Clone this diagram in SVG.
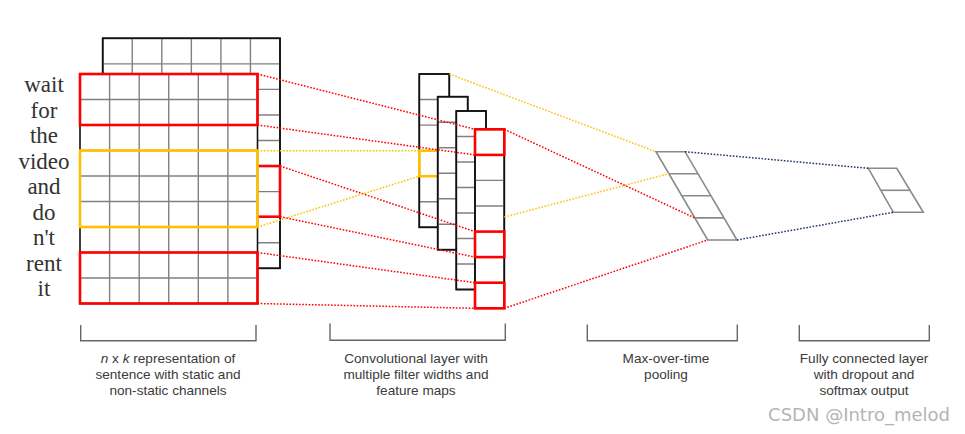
<svg xmlns="http://www.w3.org/2000/svg" width="965" height="434" viewBox="0 0 965 434">
<style>
.bg{fill:#fff}
.frame{fill:#fff;stroke:#111;stroke-width:1.6}
.grid{stroke:#808080;stroke-width:1.4;fill:none}
.red{fill:none;stroke:#ff0000;stroke-width:2.6}
.yel{fill:none;stroke:#ffc000;stroke-width:2.6}
.gray{fill:none;stroke:#8a8a8a;stroke-width:1.6}
.dr{stroke:#ff0000;stroke-width:1.5;stroke-dasharray:1.6 1.6;fill:none}
.dy{stroke:#ffc000;stroke-width:1.5;stroke-dasharray:1.6 1.6;fill:none}
.db{stroke:#1f3864;stroke-width:1.5;stroke-dasharray:1.6 1.6;fill:none}
.word{font-family:"Liberation Serif",serif;font-size:23px;fill:#333;text-anchor:middle}
.lbl{font-family:"Liberation Sans",Arial,sans-serif;font-size:13.6px;fill:#3a3a3a;text-anchor:middle}
.brk{fill:none;stroke:#666;stroke-width:1.4}
</style>
<rect class="bg" width="965" height="434"/>

<g id="matrix-back">
<rect class="frame" x="102.7" y="38.3" width="177.3" height="230"/>
<path class="grid" d="M132.25 38.3V268.3M161.8 38.3V268.3M191.35 38.3V268.3M220.9 38.3V268.3M250.45 38.3V268.3M102.7 63.85H280M102.7 89.4H280M102.7 114.95H280M102.7 140.5H280M102.7 166.05H280M102.7 191.6H280M102.7 217.15H280M102.7 242.7H280"/>
<rect class="frame" x="102.7" y="38.3" width="177.3" height="230" fill="none" style="fill:none"/>
<rect class="red" x="102.7" y="166.05" width="177.3" height="50.65"/>
</g>

<g id="matrix-front">
<rect class="frame" x="80" y="74" width="177.5" height="229.5"/>
<path class="grid" d="M109.6 74V303.5M139.2 74V303.5M168.75 74V303.5M198.3 74V303.5M227.9 74V303.5M80 99.5H257.5M80 125H257.5M80 150.5H257.5M80 176H257.5M80 201.5H257.5M80 227H257.5M80 252.5H257.5M80 278H257.5"/>
<rect class="red" x="80" y="74" width="177.5" height="51"/>
<rect class="yel" x="80" y="150.5" width="177.5" height="76.5"/>
<rect class="red" x="80" y="252.5" width="177.5" height="51"/>
</g>

<g id="words">
<text class="word" x="44" y="92">wait</text>
<text class="word" x="44" y="117.5">for</text>
<text class="word" x="44" y="143">the</text>
<text class="word" x="44" y="168.5">video</text>
<text class="word" x="44" y="194">and</text>
<text class="word" x="44" y="219.5">do</text>
<text class="word" x="44" y="245">n't</text>
<text class="word" x="44" y="270.5">rent</text>
<text class="word" x="44" y="296">it</text>
</g>

<g id="map1">
<rect class="frame" x="419.3" y="74" width="30" height="153.3"/>
<path class="grid" d="M419.3 99.55H449.3M419.3 125.1H449.3M419.3 176.2H449.3M419.3 201.75H449.3"/>
<rect class="frame" x="419.3" y="74" width="30" height="153.3" style="fill:none"/>
<rect class="yel" x="419.3" y="150.65" width="30" height="25.55"/>
</g>
<g id="map2">
<rect class="frame" x="437.7" y="96.7" width="30" height="153"/>
<path class="grid" d="M437.7 122.2H467.7M437.7 147.7H467.7M437.7 173.2H467.7M437.7 198.7H467.7M437.7 224.2H467.7"/>
<rect class="frame" x="437.7" y="96.7" width="30" height="153" style="fill:none"/>
</g>
<g id="map3">
<rect class="frame" x="456.3" y="111" width="29.7" height="178.5"/>
<path class="grid" d="M456.3 136.5H486M456.3 162H486M456.3 187.5H486M456.3 213H486M456.3 238.5H486M456.3 264H486"/>
<rect class="frame" x="456.3" y="111" width="29.7" height="178.5" style="fill:none"/>
</g>
<g id="map4">
<rect class="frame" x="475" y="129.3" width="29.3" height="179"/>
<path class="grid" d="M475 180.4H504.3M475 206H504.3M475 257.1H504.3"/>
<rect class="frame" x="475" y="129.3" width="29.3" height="179" style="fill:none"/>
<rect class="red" x="475" y="129.3" width="29.3" height="25.6"/>
<rect class="red" x="475" y="231.6" width="29.3" height="25.5"/>
<rect class="red" x="475" y="282.7" width="29.3" height="25.6"/>
</g>

<g id="pooling">
<path class="gray" d="M656 151.7H685L737 240H707.7Z"/>
<path class="gray" d="M668.9 173.7H697.9M681.8 195.8H710.8M694.7 217.9H723.7"/>
</g>

<g id="fc">
<path class="gray" d="M868.3 168.3H896.7L923.3 212.3H893.3Z"/>
<path class="gray" d="M881 190.3H910"/>
</g>

<g id="connectors">
<path class="dr" d="M257.5 74L475 129.3"/>
<path class="dr" d="M257.5 125L475 154.9"/>
<path class="dr" d="M280 166L475 231.6"/>
<path class="dr" d="M280 216.7L475 257.1"/>
<path class="dr" d="M257.5 252.5L475 282.7"/>
<path class="dr" d="M257.5 303.5L475 308.3"/>
<path class="dy" d="M257.5 150.65L419.3 150.65"/>
<path class="dy" d="M257.5 227L419.3 176.2"/>
<path class="dy" d="M449.3 74L656 151.7"/>
<path class="dy" d="M504.3 217L668.9 173.7"/>
<path class="dr" d="M504.3 129.3L694.7 217.9"/>
<path class="dr" d="M504.3 308.3L707.7 240"/>
<path class="db" d="M685 151.7L868.3 168.3"/>
<path class="db" d="M737 240L893.3 212.3"/>
</g>

<g id="brackets">
<path class="brk" d="M80.7 325V340.7H256V325"/>
<path class="brk" d="M330 323.5V340.3H505.3V323.5"/>
<path class="brk" d="M587.3 324.5V340.7H737.3V324.5"/>
<path class="brk" d="M799.3 325V340.7H929.3V325"/>
</g>

<g id="labels">
<text class="lbl" x="168" y="363"><tspan font-style="italic">n</tspan> x <tspan font-style="italic">k</tspan> representation of</text>
<text class="lbl" x="168" y="379">sentence with static and</text>
<text class="lbl" x="168" y="395">non-static channels</text>
<text class="lbl" x="416" y="363">Convolutional layer with</text>
<text class="lbl" x="416" y="379">multiple filter widths and</text>
<text class="lbl" x="416" y="395">feature maps</text>
<text class="lbl" x="666" y="363">Max-over-time</text>
<text class="lbl" x="666" y="379">pooling</text>
<text class="lbl" x="864" y="363">Fully connected layer</text>
<text class="lbl" x="864" y="379">with dropout and</text>
<text class="lbl" x="864" y="395">softmax output</text>
</g>

<text x="950" y="421" font-family="'DejaVu Sans','Noto Sans',sans-serif" font-size="18" fill="#b4b4b4" text-anchor="end">CSDN @Intro_melod</text>
</svg>
